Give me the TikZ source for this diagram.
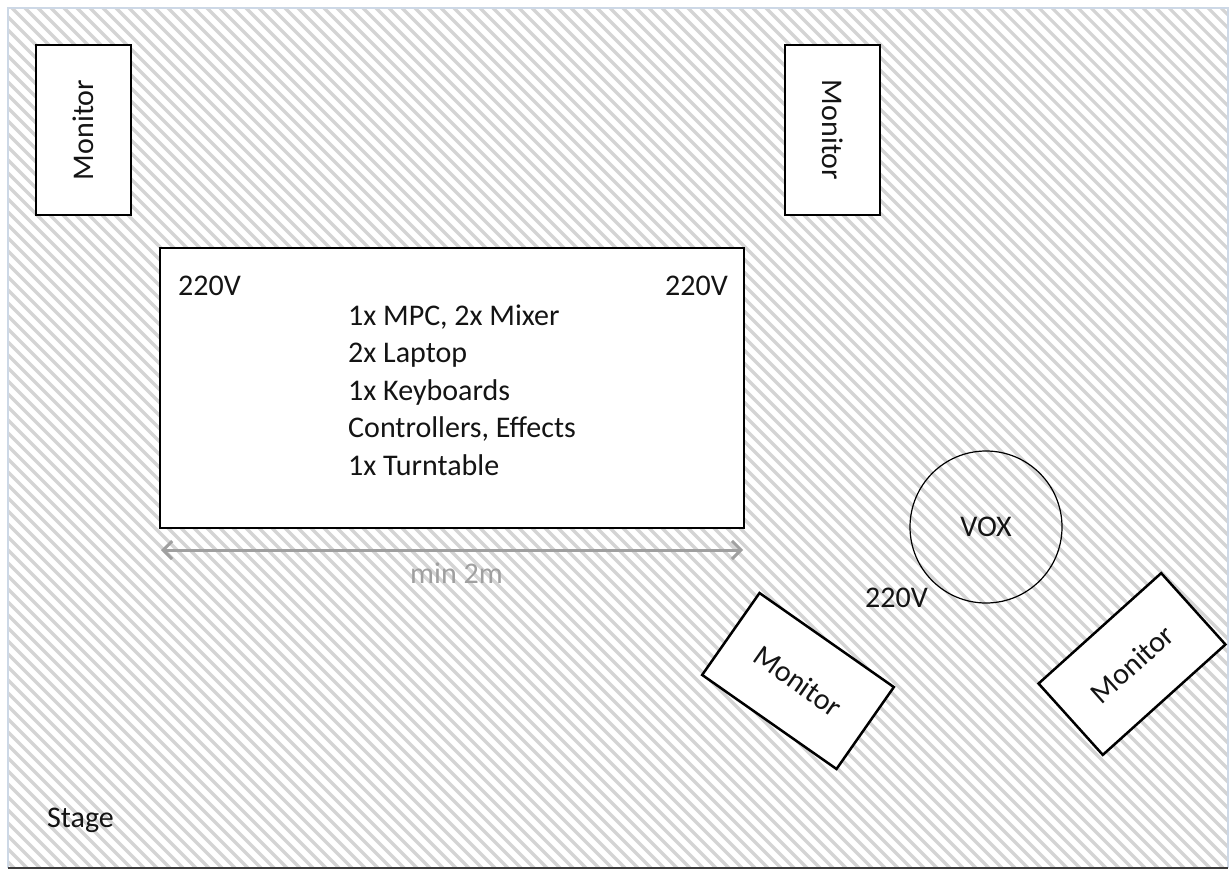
\documentclass[tikz,border=0pt]{standalone}
\usepackage{fontspec}
\setmainfont{Carlito}
\usetikzlibrary{arrows.meta}
\definecolor{hatch}{RGB}{212,212,212}
\definecolor{framecol}{RGB}{205,216,230}
\definecolor{arrowgray}{RGB}{160,160,160}
\definecolor{bottomline}{RGB}{60,60,60}
\definecolor{txt}{RGB}{20,20,20}
\begin{document}
\begin{tikzpicture}[x=1pt,y=-1pt,
  every node/.style={font=\fontsize{30}{37.5}\selectfont, inner sep=0pt, text=txt},
  box/.style={draw=black, line width=2.5pt, fill=white},
  monitor/.style={box, minimum width=170pt, minimum height=95pt},
  lbl/.style={anchor=base west},
  dim/.style={draw=arrowgray, line width=3pt, {Straight Barb[length=9pt,width=18pt]}-{Straight Barb[length=9pt,width=18pt]}}
]
\useasboundingbox (0,0) rectangle (1231,870);
\fill[white] (0,0) rectangle (1231,870);
\begin{scope}
\clip (8,8) rectangle (1228,868);
\foreach \c in {-880,-867,...,1231} \draw[hatch, line width=3.2pt] (\c,0) -- ++(900,900);
\end{scope}
\draw[framecol, line width=1.5pt] (8,868) -- (8,8) -- (1228,8) -- (1228,868);
\draw[bottomline, line width=2.5pt] (8,868) -- (1228,868);

\node[monitor, rotate=90] (m1) at (83.5,130) {Monitor};
\node[monitor, rotate=-90] (m2) at (832.5,130) {Monitor};
\node[box, minimum width=584pt, minimum height=280pt] (desk) at (452,388) {};
\node[lbl] (v1) at (178,295) {220V};
\node[lbl] (v2) at (665,295) {220V};
\node[lbl, align=left] (items) at (348,475) {1x MPC, 2x Mixer\\2x Laptop\\1x Keyboards\\Controllers, Effects\\1x Turntable};

\node[draw=black, circle, line width=1.2pt, minimum size=152pt] (vox) at (986,527) {VOX};
\node[lbl] (v3) at (865,607) {220V};
\node[monitor, rotate=-35, minimum width=164pt, minimum height=100pt] (m3) at (798,681) {Monitor};
\node[monitor, rotate=42, minimum width=165pt, minimum height=96pt] (m4) at (1132,664) {Monitor};
\node[lbl] (stage) at (47,827) {Stage};

\coordinate (aL) at (161,550);
\coordinate (aR) at (743,550);
\draw[dim] (aL) -- (aR);
\node[lbl, text=arrowgray] (mm) at (410,583) {min 2m};
\end{tikzpicture}
\end{document}
